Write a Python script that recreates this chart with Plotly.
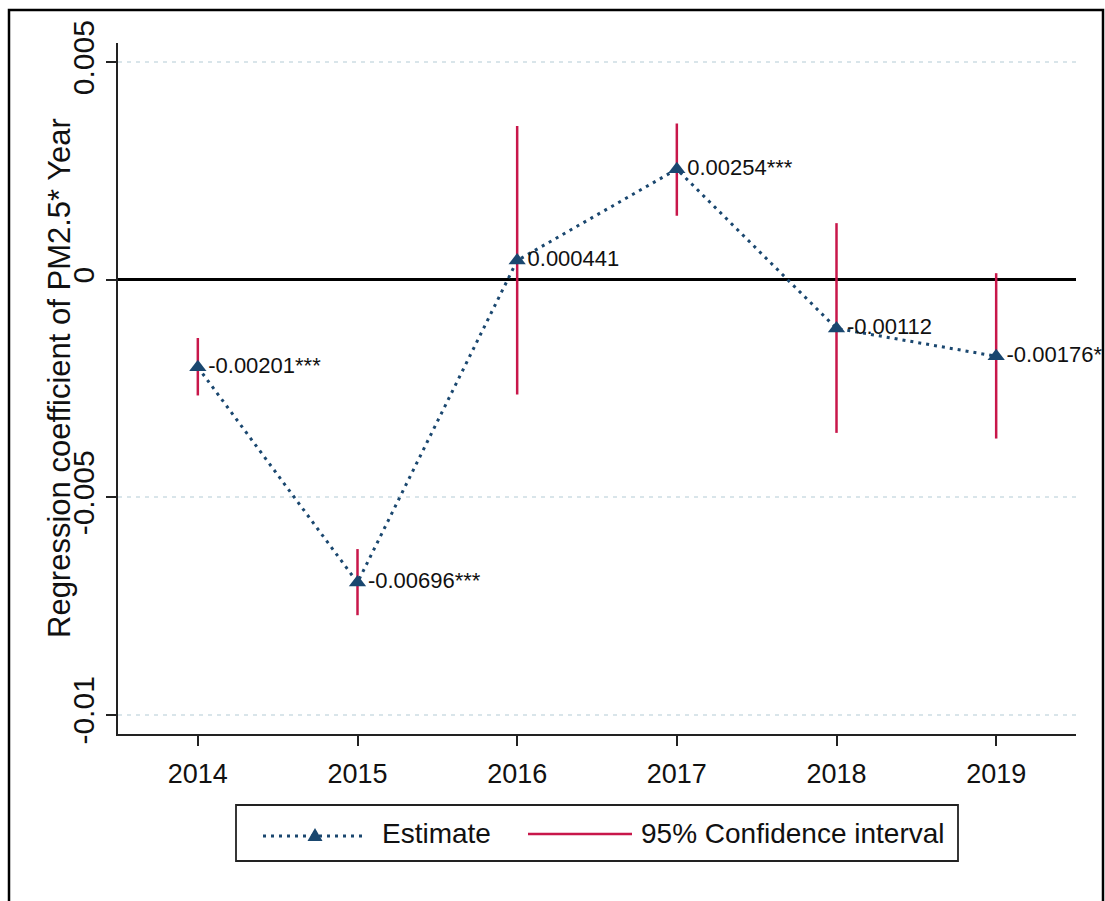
import plotly.graph_objects as go

# Year-by-year regression coefficients with 95% confidence intervals
years = [2014, 2015, 2016, 2017, 2018, 2019]
estimates = [-0.00201, -0.00696, 0.000441, 0.00254, -0.00112, -0.00176]
ci_low = [-0.00266, -0.00771, -0.00264, 0.00147, -0.00352, -0.00365]
ci_high = [-0.00134, -0.00619, 0.00353, 0.00359, 0.00130, 0.00015]
point_labels = ["-0.00201***", "-0.00696***", "0.000441", "0.00254***", "-0.00112", "-0.00176*"]

y_ticks = [0.005, 0, -0.005, -0.01]
y_tick_text = ["0.005", "0", "-0.005", "-0.01"]

NAVY = "#1a476f"
RED = "#c8174a"
FONT = "Liberation Sans, Arial, sans-serif"

# page geometry (pixels)
W, H = 1105, 901
L, R, T, B = 118, 1076, 43, 734


def px_x(x):
    return (x - L) / (R - L)


def px_y(y):
    return (B - y) / (B - T)


fig = go.Figure()

# confidence interval spikes
ci_x, ci_y = [], []
for yr, lo, hi in zip(years, ci_low, ci_high):
    ci_x += [yr, yr, None]
    ci_y += [lo, hi, None]
fig.add_trace(go.Scatter(
    x=ci_x, y=ci_y, mode="lines",
    line=dict(color=RED, width=2.5),
    name="95% Confidence interval", showlegend=False, hoverinfo="skip",
))

# point estimates joined by a dotted line
fig.add_trace(go.Scatter(
    x=years, y=estimates, mode="lines+markers+text",
    line=dict(color=NAVY, width=3, dash="3px,5px"),
    marker=dict(symbol="triangle-up", size=15, color=NAVY),
    text=point_labels, textposition="middle right",
    textfont=dict(family=FONT, size=22, color="#111111"),
    cliponaxis=False,
    name="Estimate", showlegend=False,
))

shapes = []
# outer frame
shapes.append(dict(type="rect", xref="paper", yref="paper",
                   x0=px_x(9), x1=px_x(1103), y0=px_y(1000), y1=px_y(10),
                   line=dict(color="black", width=2.5), layer="below"))

# legend box
lg_top, lg_bot = 805, 861
shapes.append(dict(type="rect", xref="paper", yref="paper",
                   x0=px_x(236), x1=px_x(958), y0=px_y(lg_bot), y1=px_y(lg_top),
                   line=dict(color="#222222", width=1.8), fillcolor="white"))
lg_mid = 836
shapes.append(dict(type="line", xref="paper", yref="paper",
                   x0=px_x(263), x1=px_x(365), y0=px_y(lg_mid), y1=px_y(lg_mid),
                   line=dict(color=NAVY, width=3, dash="3px,5px")))
# legend triangle marker
tx, ty = 315, 835
tri = "M {} {} L {} {} L {} {} Z".format(
    px_x(tx - 7.5), px_y(ty + 6), px_x(tx + 7.5), px_y(ty + 6), px_x(tx), px_y(ty - 7))
shapes.append(dict(type="path", xref="paper", yref="paper", path=tri,
                   fillcolor=NAVY, line=dict(color=NAVY, width=0)))
shapes.append(dict(type="line", xref="paper", yref="paper",
                   x0=px_x(528), x1=px_x(632), y0=px_y(834), y1=px_y(834),
                   line=dict(color=RED, width=2.5)))

annotations = [
    dict(xref="paper", yref="paper", x=px_x(380), y=px_y(833), text="Estimate",
         showarrow=False, xanchor="left", yanchor="middle",
         font=dict(family=FONT, size=28, color="#111111")),
    dict(xref="paper", yref="paper", x=px_x(639), y=px_y(833), text="95% Confidence interval",
         showarrow=False, xanchor="left", yanchor="middle",
         font=dict(family=FONT, size=28, color="#111111")),
    dict(xref="paper", yref="paper", x=px_x(59), y=px_y(378),
         text="Regression coefficient of PM2.5* Year", textangle=-90,
         showarrow=False, xanchor="center", yanchor="middle",
         font=dict(family=FONT, size=31, color="#111111")),
]

fig.update_layout(
    width=W, height=H,
    margin=dict(l=L, r=W - R, t=T, b=H - B, pad=0),
    paper_bgcolor="white", plot_bgcolor="white",
    font=dict(family=FONT, color="#111111"),
    showlegend=False,
    shapes=shapes, annotations=annotations,
    xaxis=dict(
        range=[2013.5, 2019.5], tickvals=years, ticktext=[str(y) for y in years],
        showgrid=False, zeroline=False,
        showline=True, linecolor="#222222", linewidth=2,
        ticks="outside", ticklen=10, tickwidth=2, tickcolor="#222222",
        tickfont=dict(family=FONT, size=27, color="#111111"),
        ticklabelstandoff=5,
    ),
    yaxis=dict(
        range=[-0.01044, 0.00544], tickvals=y_ticks, ticktext=y_tick_text,
        tickangle=-90,
        showgrid=True, gridcolor="#d9e5ea", gridwidth=1.5, griddash="4px,5px",
        zeroline=True, zerolinecolor="black", zerolinewidth=2.5,
        showline=True, linecolor="#222222", linewidth=2,
        ticks="outside", ticklen=10, tickwidth=2, tickcolor="#222222",
        tickfont=dict(family=FONT, size=30, color="#111111"),
    ),
)

fig.write_html("out.html")
